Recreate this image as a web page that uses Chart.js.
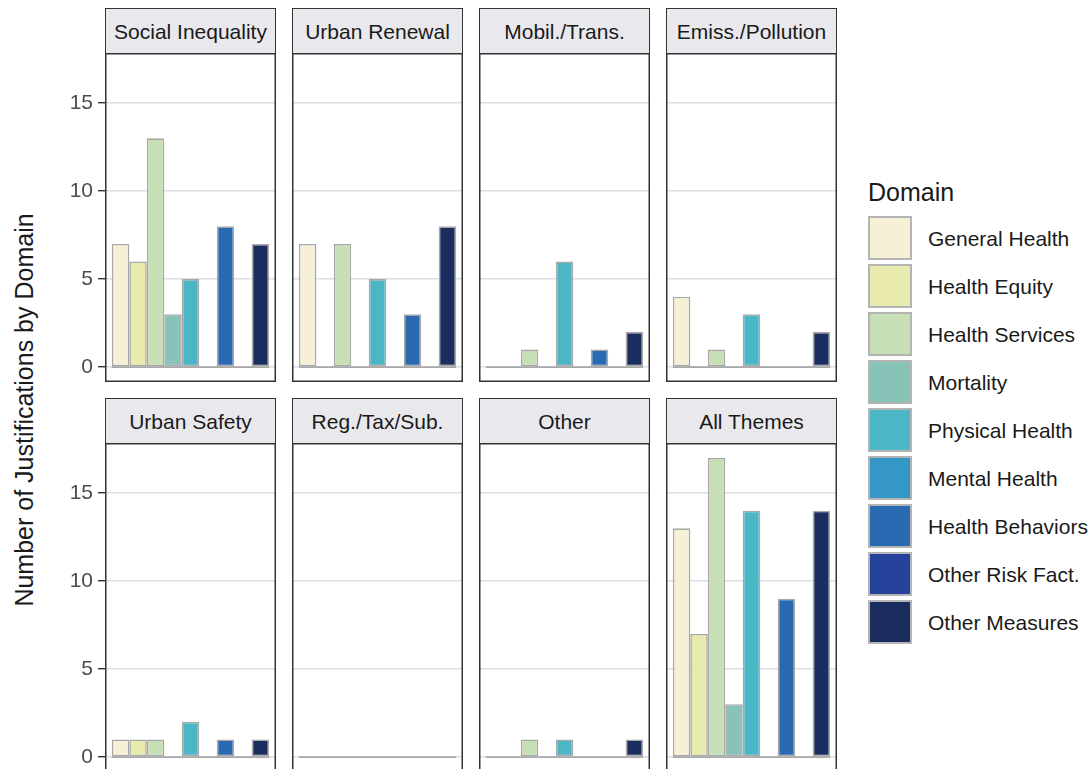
<!DOCTYPE html>
<html>
<head>
<meta charset="utf-8">
<title>Justifications by Domain</title>
<script src="https://cdn.jsdelivr.net/npm/chart.js@4.4.1/dist/chart.umd.min.js"></script>
<style>
  html, body { margin: 0; padding: 0; background: #ffffff; }
  body { width: 1091px; height: 769px; position: relative; overflow: hidden;
         font-family: 'Liberation Sans', Arial, Helvetica, sans-serif; }
  .strip { position: absolute; box-sizing: border-box; background: #e9e9ed;
           border: 1.5px solid #333333; display: flex; align-items: center;
           justify-content: center; font-size: 21px; line-height: 1; color: #1a1a1a; }
  .panel { position: absolute; }
  .ytitle { position: absolute; width: 600px; height: 30px; line-height: 30px;
            font-size: 25px; color: #1a1a1a; text-align: center;
            transform: translate(-50%, -50%) rotate(-90deg); }
  .legend-title { position: absolute; font-size: 25px; line-height: 25px; color: #1a1a1a; }
  .legend-row { position: absolute; display: flex; align-items: center; height: 44px; }
  .legend-key { width: 44px; height: 44px; box-sizing: border-box; border: 2px solid #b4b4b4; }
  .legend-label { margin-left: 16px; font-size: 21px; line-height: 1; color: #1a1a1a; white-space: nowrap; }
</style>
</head>
<body>
<script>
// Domains (fill order within every panel) and their colours
const domains = ['General Health', 'Health Equity', 'Health Services', 'Mortality',
                 'Physical Health', 'Mental Health', 'Health Behaviors',
                 'Other Risk Fact.', 'Other Measures'];
const domainColors = ['#f6f0d6', '#e8eaae', '#c7dfb4', '#88c3b8', '#4ab6c6',
                      '#3597c6', '#2a6ab2', '#26429c', '#1a2d5e'];

// Themes shown as facets, in reading order
const themes = ['Social Inequality', 'Urban Renewal', 'Mobil./Trans.', 'Emiss./Pollution',
                'Urban Safety', 'Reg./Tax/Sub.', 'Other', 'All Themes'];

// Number of justifications per domain, one array per theme
const socialInequality = [7, 6, 13, 3, 5, 0, 8, 0, 7];
const urbanRenewal     = [7, 0, 7, 0, 5, 0, 3, 0, 8];
const mobilTrans       = [0, 0, 1, 0, 6, 0, 1, 0, 2];
const emissPollution   = [4, 0, 1, 0, 3, 0, 0, 0, 2];
const urbanSafety      = [1, 1, 1, 0, 2, 0, 1, 0, 1];
const regTaxSub        = [0, 0, 0, 0, 0, 0, 0, 0, 0];
const otherTheme       = [0, 0, 1, 0, 1, 0, 0, 0, 1];
const allThemes        = [13, 7, 17, 3, 14, 0, 9, 0, 14];

const themeValues = [socialInequality, urbanRenewal, mobilTrans, emissPollution,
                     urbanSafety, regTaxSub, otherTheme, allThemes];

// Shared y axis
const yTicks = [0, 5, 10, 15];
const yDataMax = 17;
const yExpand = 0.05 * yDataMax;

const axisTitle = 'Number of Justifications by Domain';
const legendTitle = 'Domain';

// ---- layout ----
const panelLeft0 = 105, panelStep = 187, panelW = 171;
const rowTops = [8, 398];
const stripH = 45, panelH = 329;
const axisW = 60;
const barOutline = '#a8a8a8';

Chart.defaults.font.family = "'Liberation Sans', Arial, Helvetica, sans-serif";

// grey line along zero under every panel's bar group (outline of the empty bars)
const baselinePlugin = {
  id: 'baseline',
  beforeDatasetsDraw(chart) {
    const n = chart.data.datasets.length;
    const first = chart.getDatasetMeta(0).data[0];
    const last = chart.getDatasetMeta(n - 1).data[0];
    const y = chart.scales.y.getPixelForValue(0);
    const ctx = chart.ctx;
    ctx.save();
    ctx.strokeStyle = barOutline;
    ctx.lineWidth = 1.8;
    ctx.beginPath();
    ctx.moveTo(first.x - first.width / 2, y);
    ctx.lineTo(last.x + last.width / 2, y);
    ctx.stroke();
    ctx.restore();
  }
};

// dark frame round the plotting area
const framePlugin = {
  id: 'frame',
  afterDraw(chart) {
    const a = chart.chartArea;
    const ctx = chart.ctx;
    ctx.save();
    ctx.strokeStyle = '#333333';
    ctx.lineWidth = 1.5;
    ctx.strokeRect(a.left + 0.75, a.top + 0.75, a.right - a.left - 1.5, a.bottom - a.top - 1.5);
    ctx.restore();
  }
};

themes.forEach((theme, t) => {
  const row = Math.floor(t / 4), col = t % 4;
  const left = panelLeft0 + col * panelStep;
  const stripTop = rowTops[row];
  const panelTop = stripTop + stripH;
  const isLeft = col === 0;

  const strip = document.createElement('div');
  strip.className = 'strip';
  strip.style.left = left + 'px';
  strip.style.top = stripTop + 'px';
  strip.style.width = panelW + 'px';
  strip.style.height = (stripH + 1) + 'px';
  strip.textContent = theme;

  const holder = document.createElement('div');
  holder.className = 'panel';
  const cw = panelW + (isLeft ? axisW : 0);
  holder.style.left = (left - (isLeft ? axisW : 0)) + 'px';
  holder.style.top = panelTop + 'px';
  const canvas = document.createElement('canvas');
  canvas.width = cw;
  canvas.height = panelH;
  canvas.style.width = cw + 'px';
  canvas.style.height = panelH + 'px';
  holder.appendChild(canvas);
  document.body.appendChild(holder);
  document.body.appendChild(strip);

  new Chart(canvas, {
    type: 'bar',
    data: {
      labels: [theme],
      datasets: domains.map((d, i) => ({
        label: d,
        data: [themeValues[t][i]],
        backgroundColor: domainColors[i],
        borderColor: barOutline,
        borderWidth: 1.6,
        borderSkipped: false,
        categoryPercentage: 0.92,
        barPercentage: 1.0
      }))
    },
    options: {
      responsive: false,
      animation: false,
      devicePixelRatio: 1,
      layout: { padding: 0, autoPadding: false },
      plugins: { legend: { display: false }, tooltip: { enabled: false } },
      scales: {
        x: { display: false },
        y: {
          min: -yExpand,
          max: yDataMax + yExpand,
          afterBuildTicks(scale) { scale.ticks = yTicks.map(v => ({ value: v })); },
          afterFit(scale) {
            scale.width = isLeft ? axisW : 0;
            scale.paddingTop = 0; scale.paddingBottom = 0;
          },
          border: { display: false },
          grid: {
            color: '#dcdee3',
            lineWidth: 1.4,
            drawTicks: isLeft,
            tickLength: 7,
            tickColor: '#333333',
            tickWidth: 1.4
          },
          ticks: {
            display: isLeft,
            color: '#4d4d4d',
            padding: 5,
            font: { size: 21 }
          }
        }
      }
    },
    plugins: [baselinePlugin, framePlugin]
  });
});

// y axis title shared by both rows
const yt = document.createElement('div');
yt.className = 'ytitle';
yt.style.left = '24px';
yt.style.top = '410px';
yt.textContent = axisTitle;
document.body.appendChild(yt);

// legend
const lt = document.createElement('div');
lt.className = 'legend-title';
lt.style.left = '868px';
lt.style.top = '180px';
lt.textContent = legendTitle;
document.body.appendChild(lt);

domains.forEach((d, i) => {
  const r = document.createElement('div');
  r.className = 'legend-row';
  r.style.left = '868px';
  r.style.top = (216 + i * 48) + 'px';
  const k = document.createElement('div');
  k.className = 'legend-key';
  k.style.background = domainColors[i];
  const l = document.createElement('div');
  l.className = 'legend-label';
  l.textContent = d;
  r.appendChild(k);
  r.appendChild(l);
  document.body.appendChild(r);
});
</script>
</body>
</html>
